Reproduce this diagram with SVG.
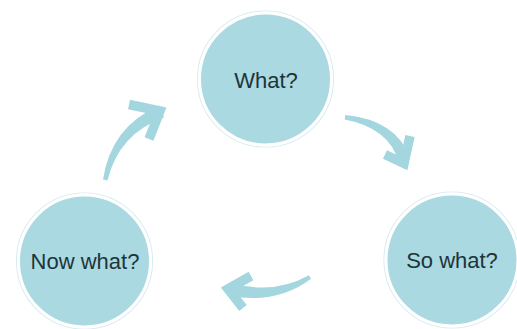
<svg xmlns="http://www.w3.org/2000/svg" width="517" height="329" viewBox="0 0 517 329">
<defs>
<style>
.ring{fill:none;stroke:#d6edf1;stroke-width:1.2}
.node{fill:#abd9e1;stroke:#ffffff;stroke-width:3}
.lbl{font-family:"Liberation Sans",Arial,sans-serif;font-size:22px;fill:#1c3539;text-anchor:middle}
.shaft{fill:#a3d6de}
.head{fill:none;stroke:#a3d6de;stroke-width:9.5;stroke-linejoin:miter;stroke-linecap:butt}
</style>
</defs>
<rect width="517" height="329" fill="#ffffff"/>
<g id="connectors">
<g id="arrow-now-to-what">
<path class="shaft" d="M103,179.6 Q111,126.5 159.5,105.5 L164,117.5 Q119,133.5 107.5,180.4 Z"/>
<polyline class="head" points="129,104.5 160,111 149,139"/>
</g>
<g id="arrow-what-to-so">
<path class="shaft" d="M345.3,115 Q396.5,120 410,158 L398.5,162 Q389.5,128 344.7,119.5 Z"/>
<polyline class="head" points="385,154.5 404,163.5 410,136"/>
</g>
<g id="arrow-so-to-now">
<path class="shaft" d="M311.1,278.7 Q276,305 228.5,295.5 L231.5,283 Q274,295 308.9,275.3 Z"/>
<polyline class="head" points="251,276 228,289 243,308"/>
</g>
</g>
<g id="node-what">
<circle class="ring" cx="265.5" cy="79" r="68"/>
<circle class="node" cx="265.5" cy="79" r="66"/>
<text class="lbl" x="266" y="87.5">What?</text>
</g>
<g id="node-so-what">
<circle class="ring" cx="452" cy="260" r="68"/>
<circle class="node" cx="452" cy="260" r="66"/>
<text class="lbl" x="452" y="267.5">So what?</text>
</g>
<g id="node-now-what">
<circle class="ring" cx="84.5" cy="261" r="68"/>
<circle class="node" cx="84.5" cy="261" r="66"/>
<text class="lbl" x="85" y="268.5">Now what?</text>
</g>
</svg>
